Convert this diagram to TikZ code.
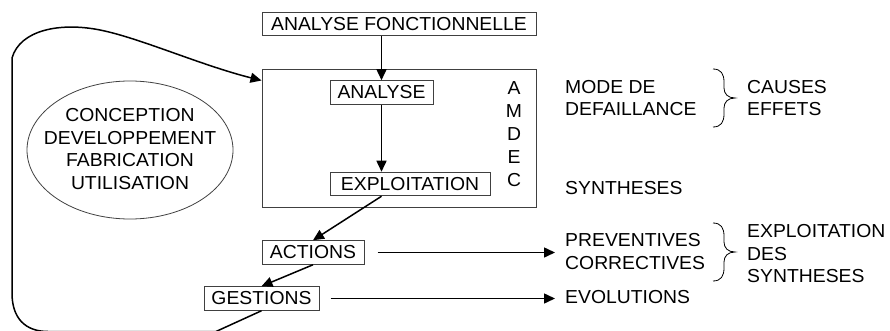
\documentclass[tikz,border=0pt]{standalone}
\usepackage{fontspec}
\setmainfont{Liberation Sans}[FakeStretch=1.03]
\usetikzlibrary{arrows.meta,shapes.geometric,calc}
\begin{document}
\begin{tikzpicture}[x=1pt,y=-1pt,
  every node/.style={font=\fontsize{18.8}{22.5}\selectfont, inner sep=0pt},
  box/.style={draw=black!75, line width=1pt, minimum height=23.5pt, anchor=center},
  arr/.style={line width=1.5pt, -{Triangle[length=11pt,width=10pt]}},
  lbl/.style={anchor=west, align=left},
  brc/.style={line width=0.8pt},
]
\useasboundingbox (0,0) rectangle (890,331);

\node[box, minimum width=274pt] (af) at (399,24) {ANALYSE FONCTIONNELLE};
\node[box, minimum width=274pt, minimum height=137pt] (amdec) at (399,138.5) {};
\node[box, minimum width=103pt] (anal) at (381.5,92.5) {ANALYSE};
\node[box, minimum width=160pt] (expl) at (410,184) {EXPLOITATION};
\node[box, minimum width=102pt] (act) at (313,252.5) {ACTIONS};
\node[box, minimum width=115pt] (gest) at (261.5,298.5) {GESTIONS};

\node[align=center, font=\fontsize{18.8}{23}\selectfont] (letters) at (514,134) {A\\M\\D\\E\\C};

\node[align=center] (cycle) at (130,149) {CONCEPTION\\DEVELOPPEMENT\\FABRICATION\\UTILISATION};
\draw[draw=black!75, line width=0.8pt] (cycle.center) ++(0,1) ellipse [x radius=103, y radius=69];

\node[lbl] (mode) at (565,98) {MODE DE\\DEFAILLANCE};
\node[lbl] (cause) at (747,98) {CAUSES\\EFFETS};
\node[lbl] (synth) at (565,188) {SYNTHESES};
\node[lbl] (prev) at (565,251.5) {PREVENTIVES\\CORRECTIVES};
\node[lbl] (expsyn) at (747,254) {EXPLOITATION\\DES\\SYNTHESES};
\node[lbl] (evol) at (565,297) {EVOLUTIONS};

\draw[brc] (713,69) .. controls (721,69) and (724,74) .. (724,82) -- (724,88) .. controls (724,94) and (728,98) .. (735,98) .. controls (728,98) and (724,102) .. (724,108) -- (724,114) .. controls (724,122) and (721,127) .. (713,127);
\begin{scope}[yshift=-154pt]
\draw[brc] (713,69) .. controls (721,69) and (724,74) .. (724,82) -- (724,88) .. controls (724,94) and (728,98) .. (735,98) .. controls (728,98) and (724,102) .. (724,108) -- (724,114) .. controls (724,122) and (721,127) .. (713,127);
\end{scope}

\draw[arr] (anal.north |- af.south) -- (anal.north);
\draw[arr] (anal.south) -- (anal.south |- expl.north);
\draw[arr] (anal.south |- expl.south) -- (act.north);
\draw[arr] (act.south) -- (gest.north);
\draw[arr, shorten <=13pt, shorten >=10pt] (act.east) -- (act.east -| prev.west);
\draw[arr, shorten <=11pt, shorten >=10pt] (gest.east) -- (gest.east -| evol.west);

\draw[arr] (gest.south) -- (216,331.5) -- (48,331.5) .. controls (25,331.5) and (12,318) .. (12,293) -- (12,58) .. controls (20,30) and (60,22) .. (100,30) .. controls (140,38) and (200,65) .. ($(amdec.north west)+(0,11)$);
\end{tikzpicture}
\end{document}
